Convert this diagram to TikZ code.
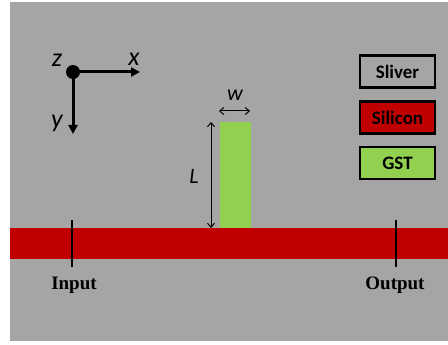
\documentclass[tikz,border=0pt]{standalone}
\usepackage{fontspec}
\setmainfont{Liberation Serif}
\newfontfamily\calfont{Carlito}
\usetikzlibrary{arrows.meta}
\definecolor{bggray}{RGB}{165,165,165}
\definecolor{sired}{RGB}{192,0,0}
\definecolor{gstgreen}{RGB}{146,208,80}
\tikzset{
  legendbox/.style={draw=black, line width=2.2pt, minimum width=75pt, minimum height=32pt, inner sep=0pt, font=\calfont\bfseries\fontsize{19}{20}\selectfont},
  axisarrow/.style={line width=3pt, -{Triangle[length=9pt,width=9pt]}},
  dimarrow/.style={line width=1pt, {Straight Barb[length=4pt,width=7pt]}-{Straight Barb[length=4pt,width=7pt]}},
  axislabel/.style={font=\calfont\itshape\fontsize{26}{26}\selectfont, inner sep=0pt},
  dimlabel/.style={font=\calfont\itshape\fontsize{22}{22}\selectfont, inner sep=0pt},
  portlabel/.style={font=\bfseries\fontsize{19}{20}\selectfont, inner sep=0pt},
  tick/.style={line width=2pt}
}
\begin{document}
\begin{tikzpicture}[x=1pt,y=-1pt]
\useasboundingbox (0,0) rectangle (448,345);
\fill[white] (0,0) rectangle (448,345);
\fill[bggray] (10,2) rectangle (448,341);
% silicon waveguide
\node[fill=sired, minimum width=438pt, minimum height=31pt, inner sep=0pt] (wg) at (229,243.5) {};
% GST bar
\node[fill=gstgreen, minimum width=31pt, minimum height=106pt, inner sep=0pt] (gst) at (235.5,175) {};
% axes
\node[circle, fill=black, minimum size=14pt, inner sep=0pt] (o) at (73,72) {};
\coordinate (xend) at (140,72);
\coordinate (yend) at (73,134);
\draw[axisarrow] (o.center) -- (xend);
\draw[axisarrow] (o.center) -- (yend);
\node[axislabel] (zl) at (57,60) {z};
\node[axislabel] (xl) at (134,59) {x};
\node[axislabel] (yl) at (57,123) {y};
% dimensions
\coordinate (Ltop) at (211,122);
\coordinate (Lbot) at (211,228);
\draw[dimarrow] (Ltop) -- (Lbot);
\node[dimlabel] (Ll) at (194,176) {L};
\coordinate (wl) at (219,111);
\coordinate (wr) at (250,111);
\draw[dimarrow] (wl) -- (wr);
\node[dimlabel] (wlab) at (235,95) {w};
% ports
\coordinate (inT) at (72,220);
\coordinate (inB) at (72,267);
\coordinate (outT) at (396,220);
\coordinate (outB) at (396,267);
\draw[tick] (inT) -- (inB);
\draw[tick] (outT) -- (outB);
\node[portlabel] (inl) at (74,285) {Input};
\node[portlabel] (outl) at (395,285) {Output};
% legend
\node[legendbox, fill=bggray] (lsl) at (397.5,71.5) {Sliver};
\node[legendbox, fill=sired] (lsi) at (397.5,117.5) {Silicon};
\node[legendbox, fill=gstgreen] (lgs) at (397.5,163) {GST};
\end{tikzpicture}
\end{document}
